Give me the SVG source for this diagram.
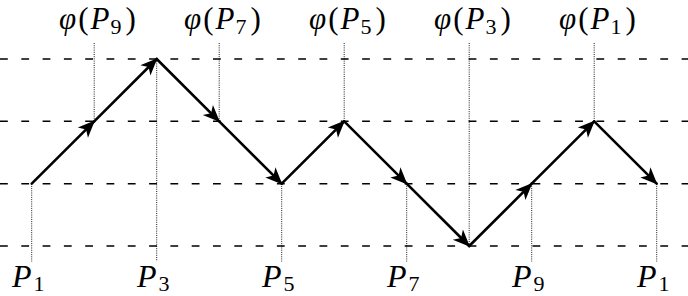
<svg xmlns="http://www.w3.org/2000/svg" width="688" height="296" viewBox="0 0 688 296">
<style>
.grid{stroke:#000;stroke-width:1.4;stroke-dasharray:7.8 13.5;fill:none}
.dot{stroke:#000;stroke-width:0.9;stroke-dasharray:1 1.2;fill:none}
.seg{stroke:#000;stroke-width:2.6;fill:none;stroke-linecap:round;marker-end:url(#ah)}
text{font-family:"Liberation Serif","Times New Roman",serif;fill:#000}
.top{font-size:31px}
.bot{font-size:32px}
.it{font-style:italic}
.sub{font-size:22px}
</style>
<defs>
<marker id="ah" markerUnits="userSpaceOnUse" orient="auto" refX="0" refY="0" markerWidth="20" markerHeight="20" overflow="visible">
<path d="M1,0 L-16,-7.2 L-11.5,0 L-16,7.2 Z" fill="#000"/>
</marker>
</defs>
<g id="gridlines">
<line class="grid" x1="0" y1="59" x2="688" y2="59"/>
<line class="grid" x1="0" y1="121.3" x2="688" y2="121.3"/>
<line class="grid" x1="0" y1="183.7" x2="688" y2="183.7"/>
<line class="grid" x1="0" y1="246" x2="688" y2="246"/>
</g>
<g id="guides">
<line class="dot" x1="31.7" y1="183.7" x2="31.7" y2="261.5"/>
<line class="dot" x1="156.7" y1="59" x2="156.7" y2="261.5"/>
<line class="dot" x1="281.7" y1="183.7" x2="281.7" y2="261.5"/>
<line class="dot" x1="406.7" y1="183.7" x2="406.7" y2="261.5"/>
<line class="dot" x1="531.7" y1="183.7" x2="531.7" y2="261.5"/>
<line class="dot" x1="656.7" y1="183.7" x2="656.7" y2="261.5"/>
<line class="dot" x1="94.2" y1="43" x2="94.2" y2="121.3"/>
<line class="dot" x1="219.2" y1="43" x2="219.2" y2="121.3"/>
<line class="dot" x1="344.2" y1="43" x2="344.2" y2="121.3"/>
<line class="dot" x1="469.2" y1="43" x2="469.2" y2="246"/>
<line class="dot" x1="594.2" y1="43" x2="594.2" y2="121.3"/>
</g>
<g id="connectors">
<line class="seg" x1="31.7" y1="183.7" x2="94.2" y2="121.3"/>
<line class="seg" x1="94.2" y1="121.3" x2="156.7" y2="59"/>
<line class="seg" x1="156.7" y1="59" x2="219.2" y2="121.3"/>
<line class="seg" x1="219.2" y1="121.3" x2="281.7" y2="183.7"/>
<line class="seg" x1="281.7" y1="183.7" x2="344.2" y2="121.3"/>
<line class="seg" x1="344.2" y1="121.3" x2="406.7" y2="183.7"/>
<line class="seg" x1="406.7" y1="183.7" x2="469.2" y2="246"/>
<line class="seg" x1="469.2" y1="246" x2="531.7" y2="183.7"/>
<line class="seg" x1="531.7" y1="183.7" x2="594.2" y2="121.3"/>
<line class="seg" x1="594.2" y1="121.3" x2="656.7" y2="183.7"/>
</g>
<g id="top-labels">
<text id="phiP9" class="top" x="59" y="29"><tspan class="it">φ</tspan><tspan dx="2">(</tspan><tspan class="it" dx="2">P</tspan><tspan class="sub" dx="1" dy="5">9</tspan><tspan dx="4" dy="-5">)</tspan></text>
<text id="phiP7" class="top" x="184" y="29"><tspan class="it">φ</tspan><tspan dx="2">(</tspan><tspan class="it" dx="2">P</tspan><tspan class="sub" dx="1" dy="5">7</tspan><tspan dx="4" dy="-5">)</tspan></text>
<text id="phiP5" class="top" x="309" y="29"><tspan class="it">φ</tspan><tspan dx="2">(</tspan><tspan class="it" dx="2">P</tspan><tspan class="sub" dx="1" dy="5">5</tspan><tspan dx="4" dy="-5">)</tspan></text>
<text id="phiP3" class="top" x="434" y="29"><tspan class="it">φ</tspan><tspan dx="2">(</tspan><tspan class="it" dx="2">P</tspan><tspan class="sub" dx="1" dy="5">3</tspan><tspan dx="4" dy="-5">)</tspan></text>
<text id="phiP1" class="top" x="559" y="29"><tspan class="it">φ</tspan><tspan dx="2">(</tspan><tspan class="it" dx="2">P</tspan><tspan class="sub" dx="1" dy="5">1</tspan><tspan dx="4" dy="-5">)</tspan></text>
</g>
<g id="bottom-labels">
<text id="P1a" class="bot" x="12" y="287"><tspan class="it">P</tspan><tspan class="sub" dx="2" dy="4">1</tspan></text>
<text id="P3" class="bot" x="137" y="287"><tspan class="it">P</tspan><tspan class="sub" dx="2" dy="4">3</tspan></text>
<text id="P5" class="bot" x="262" y="287"><tspan class="it">P</tspan><tspan class="sub" dx="2" dy="4">5</tspan></text>
<text id="P7" class="bot" x="387" y="287"><tspan class="it">P</tspan><tspan class="sub" dx="2" dy="4">7</tspan></text>
<text id="P9" class="bot" x="512" y="287"><tspan class="it">P</tspan><tspan class="sub" dx="2" dy="4">9</tspan></text>
<text id="P1b" class="bot" x="637" y="287"><tspan class="it">P</tspan><tspan class="sub" dx="2" dy="4">1</tspan></text>
</g>
</svg>
